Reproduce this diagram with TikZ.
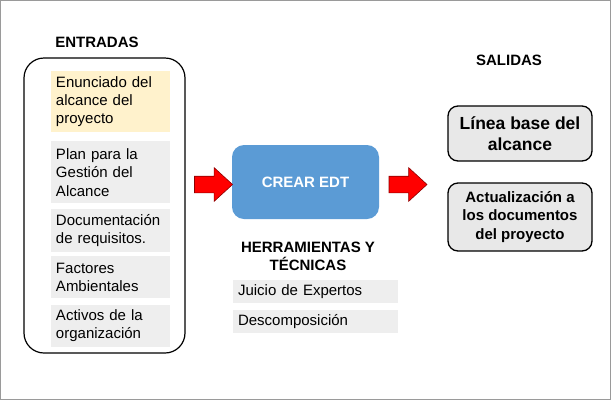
\documentclass[tikz,border=0pt]{standalone}
\usepackage{fontspec}
\setmainfont{Liberation Sans}
\usetikzlibrary{shapes.arrows, positioning}
\definecolor{amarillo}{HTML}{FFF2CC}
\definecolor{grisclaro}{HTML}{EEEEEE}
\definecolor{grissalida}{HTML}{E8E8E8}
\definecolor{azul}{HTML}{5B9BD5}
\definecolor{marco}{HTML}{9A9A9A}
\hyphenpenalty=10000
\tikzset{
  titulo/.style={font=\fontsize{15}{18}\selectfont\bfseries, align=center, inner sep=0pt},
  entrada/.style={fill=grisclaro, minimum width=119pt, text width=109pt, inner xsep=5pt, inner ysep=0pt, align=left, font=\fontsize{15}{18.3}\selectfont},
  tecnica/.style={fill=grisclaro, minimum width=165pt, text width=155pt, minimum height=23pt, inner xsep=5pt, inner ysep=0pt, align=left, font=\fontsize{15}{18}\selectfont},
  salida/.style={draw, line width=1.3pt, fill=grissalida, rounded corners=10pt, minimum width=144pt, inner sep=0pt, align=center},
  flecha/.style={single arrow, fill=red, draw=red!55!black, line width=0.6pt, minimum height=38pt, single arrow head extend=8.5pt, single arrow tip angle=85, inner xsep=0pt, inner ysep=8pt}
}
\begin{document}
\begin{tikzpicture}[x=1pt, y=-1pt]
    \useasboundingbox (0,0) rectangle (611,400);
    \draw[marco, line width=1pt] (0.5,0.5) rectangle (610,399.5);

    % entradas
    \node[titulo] (tEntradas) at (97,42) {ENTRADAS};
    \draw[line width=1.2pt, rounded corners=20pt] (24,58) rectangle (185,353);
    \node[entrada, fill=amarillo, minimum height=61pt] (e1) at (110.5,101.5) {Enunciado del\\alcance del\\proyecto};
    \node[entrada, minimum height=62pt, below=9pt of e1] (e2) {Plan para la\\Gesti\'on del\\Alcance};
    \node[entrada, minimum height=43pt, below=5pt of e2] (e3) {Documentaci\'on\\de requisitos.};
    \node[entrada, minimum height=42pt, below=4pt of e3] (e4) {Factores\\Ambientales};
    \node[entrada, minimum height=42pt, below=6pt of e4] (e5) {Activos de la\\organizaci\'on};

    % proceso
    \node[fill=azul, rounded corners=12pt, minimum width=147pt, minimum height=74pt, text=white, font=\fontsize{15}{18}\selectfont\bfseries] (edt) at (305.5,182) {CREAR EDT};
    \node[flecha] (fIn) at (209,184.5) {};
    \node[flecha] (fOut) at (403.5,184.5) {};

    % herramientas
    \node[titulo] (tHerr) at (308,256) {HERRAMIENTAS Y\\T\'ECNICAS};
    \node[tecnica] (h1) at (315.5,291.5) {Juicio de Expertos};
    \node[tecnica, below=7pt of h1] (h2) {Descomposici\'on};

    % salidas
    \node[titulo] (tSalidas) at (509,60) {SALIDAS};
    \node[salida, minimum height=55pt, font=\fontsize{17.5}{21}\selectfont\bfseries] (s1) at (520,133.5) {L\'inea base del\\alcance};
    \node[salida, minimum height=68pt, font=\fontsize{15}{18.3}\selectfont\bfseries] (s2) at (520,217) {Actualizaci\'on a\\los documentos\\del proyecto};
\end{tikzpicture}
\end{document}
